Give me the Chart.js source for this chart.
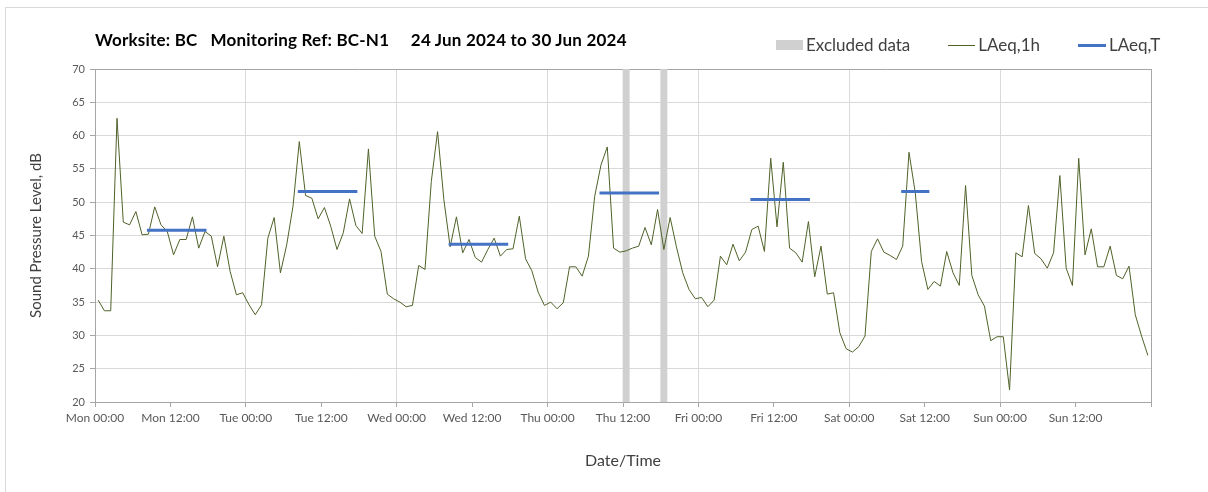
<!DOCTYPE html>
<html>
<head>
<meta charset="utf-8">
<script src="https://cdn.jsdelivr.net/npm/chart.js@4.4.1/dist/chart.umd.min.js"></script>
<style>
body { margin: 0; background: #fff; font-family: Lato, sans-serif; }
#wrap { position: relative; width: 1208px; height: 492px; overflow: hidden; }
#frame { position: absolute; left: 5px; top: 7px; width: 1300px; height: 600px; border-left: 1px solid #d9d9d9; border-top: 1px solid #d9d9d9; }
#chart { position: absolute; left: 0; top: 0; }
#title { position: absolute; left: 95px; top: 30px; font-size: 17px; line-height: 20px; letter-spacing: 0.2px; font-weight: bold; color: #000; white-space: pre; }
#legend { position: absolute; left: 776px; top: 35px; display: flex; align-items: center; font-size: 17px; line-height: 20px; color: #404040; }
#legend .item { display: flex; align-items: center; margin-right: 38px; }
#legend .item:last-child { margin-right: 0; }
#legend .sw { margin-right: 3px; }
</style>
</head>
<body>
<div id="wrap">
  <div id="frame"></div>
  <canvas id="chart" width="1208" height="492"></canvas>
  <div id="title">Worksite: BC   Monitoring Ref: BC-N1     24 Jun 2024 to 30 Jun 2024</div>
  <div id="legend">
    <div class="item"><div class="sw" style="width:27px;height:10px;background:#d0d0d0"></div>Excluded data</div>
    <div class="item"><div class="sw" style="width:27px;height:1px;background:#4f6228"></div>LAeq,1h</div>
    <div class="item"><div class="sw" style="width:28px;height:3px;background:#4472c4"></div>LAeq,T</div>
  </div>
</div>
<script>
// tick labels
var dayNames = ['Mon', 'Tue', 'Wed', 'Thu', 'Fri', 'Sat', 'Sun'];
var tickTimes = ['00:00', '12:00'];

// hourly LAeq,1h, Mon 00:00 -> Sun 23:00
var laeq1h = [
    35.3, 33.7, 33.7, 62.6, 47.0, 46.6, 48.6, 45.1, 45.2, 49.3, 46.6, 45.6, 42.1, 44.4, 44.4, 47.8, 43.1, 45.6, 44.9, 40.3, 44.9, 39.6, 36.1, 36.4,
    34.6, 33.1, 34.6, 44.6, 47.7, 39.4, 43.6, 49.4, 59.1, 51.0, 50.6, 47.5, 49.2, 46.4, 42.9, 45.4, 50.5, 46.5, 45.3, 58.0, 44.9, 42.6, 36.2, 35.5,
    35.0, 34.3, 34.5, 40.5, 39.9, 53.1, 60.6, 50.4, 43.3, 47.8, 42.4, 44.4, 41.7, 41.0, 42.9, 44.6, 41.9, 42.9, 43.0, 47.9, 41.5, 39.7, 36.5, 34.5,
    35.0, 34.0, 34.9, 40.3, 40.3, 38.9, 41.9, 50.9, 55.6, 58.3, 43.1, 42.5, 42.7, 43.1, 43.4, 46.2, 43.6, 48.9, 42.9, 47.7, 43.3, 39.4, 36.9, 35.5,
    35.7, 34.3, 35.3, 41.9, 40.6, 43.7, 41.2, 42.5, 45.9, 46.4, 42.6, 56.6, 46.3, 56.0, 43.1, 42.4, 41.0, 47.1, 38.8, 43.4, 36.2, 36.4, 30.4, 28.0,
    27.5, 28.3, 29.9, 42.6, 44.5, 42.5, 42.0, 41.4, 43.4, 57.5, 51.4, 41.1, 36.9, 38.1, 37.4, 42.6, 39.4, 37.5, 52.5, 39.0, 36.1, 34.4, 29.2, 29.8,
    29.8, 21.8, 42.4, 41.8, 49.5, 42.3, 41.5, 40.1, 42.4, 54.0, 40.1, 37.5, 56.6, 42.1, 46.0, 40.3, 40.3, 43.4, 39.0, 38.5, 40.4, 33.1, 29.9, 27.0
];

// hours flagged as excluded
var excludedHours = [84, 90];

// LAeq,T periods (first and last hour) and levels
var periodStart = [8, 32, 56, 80, 104, 128];
var periodEnd = [17, 41, 65, 89, 113, 132];
var laeqT = [45.8, 51.6, 43.7, 51.4, 50.4, 51.6];

var yMin = 20, yMax = 70, yStep = 5;
var hoursTotal = laeq1h.length;

var hourlyData = laeq1h.map(function(v, h) { return {x: h + 0.5, y: v}; });
var excludedData = laeq1h.map(function(v, h) {
    return {x: h + 0.5, y: excludedHours.indexOf(h) >= 0 ? [yMin, yMax] : null};
});
var periodData = [];
for (var i = 0; i < laeqT.length; i++) {
    periodData.push({x: periodStart[i] + 0.5, y: laeqT[i]});
    periodData.push({x: periodEnd[i] + 0.5, y: laeqT[i]});
    periodData.push({x: periodEnd[i] + 0.5, y: null});
}

var axisGrey = '#a6a6a6';
var gridGrey = '#d9d9d9';

var myChart = new Chart(document.getElementById('chart'), {
type: 'line',
data: {
    datasets: [{
        label: 'LAeq,T',
        data: periodData,
        borderColor: '#4472c4',
        borderWidth: 3,
        borderCapStyle: 'square',
        pointRadius: 0,
        spanGaps: false
    }, {
        label: 'LAeq,1h',
        data: hourlyData,
        borderColor: '#4f6228',
        borderWidth: 1,
        pointRadius: 0,
        tension: 0
    }, {
        type: 'bar',
        label: 'Excluded data',
        data: excludedData,
        backgroundColor: '#d0d0d0',
        barPercentage: 1,
        categoryPercentage: 1,
        grouped: false
    }]
},
options: {
    responsive: false,
    animation: false,
    devicePixelRatio: 1,
    layout: {
        padding: {left: 0, right: 57, top: 69, bottom: 0}
    },
    plugins: {
        legend: {display: false},
        title: {display: false},
        tooltip: {enabled: false}
    },
    scales: {
        x: {
            type: 'linear',
            min: 0,
            max: hoursTotal,
            offset: false,
            afterFit: function(scale) { scale.height = 90; },
            ticks: {
                stepSize: 12,
                autoSkip: false,
                maxRotation: 0,
                padding: 4,
                color: '#595959',
                font: {family: 'Lato', size: 12},
                callback: function(v) {
                    if (v >= hoursTotal) return '';
                    return dayNames[Math.floor(v / 24)] + ' ' + tickTimes[(v % 24) / 12];
                }
            },
            grid: {
                offset: false,
                color: function(ctx) {
                    var v = ctx.tick ? ctx.tick.value : 0;
                    if (v >= hoursTotal) return axisGrey;
                    return v % 24 === 0 ? gridGrey : 'rgba(0,0,0,0)';
                },
                tickColor: axisGrey,
                tickLength: 5
            },
            border: {color: axisGrey},
            title: {
                display: true,
                text: 'Date/Time',
                color: '#404040',
                font: {family: 'Lato', size: 16},
                padding: {top: 0, bottom: 22}
            }
        },
        y: {
            min: yMin,
            max: yMax,
            afterFit: function(scale) { scale.width = 95; },
            ticks: {
                stepSize: yStep,
                padding: 5,
                color: '#595959',
                font: {family: 'Lato', size: 11}
            },
            grid: {
                color: function(ctx) {
                    return ctx.tick && ctx.tick.value >= yMax ? axisGrey : gridGrey;
                },
                tickColor: axisGrey,
                tickLength: 5
            },
            border: {color: axisGrey},
            title: {
                display: true,
                text: 'Sound Pressure Level, dB',
                color: '#404040',
                font: {family: 'Lato', size: 15},
                padding: {top: 27, bottom: 0}
            }
        }
    }
}
});
</script>
</body>
</html>
